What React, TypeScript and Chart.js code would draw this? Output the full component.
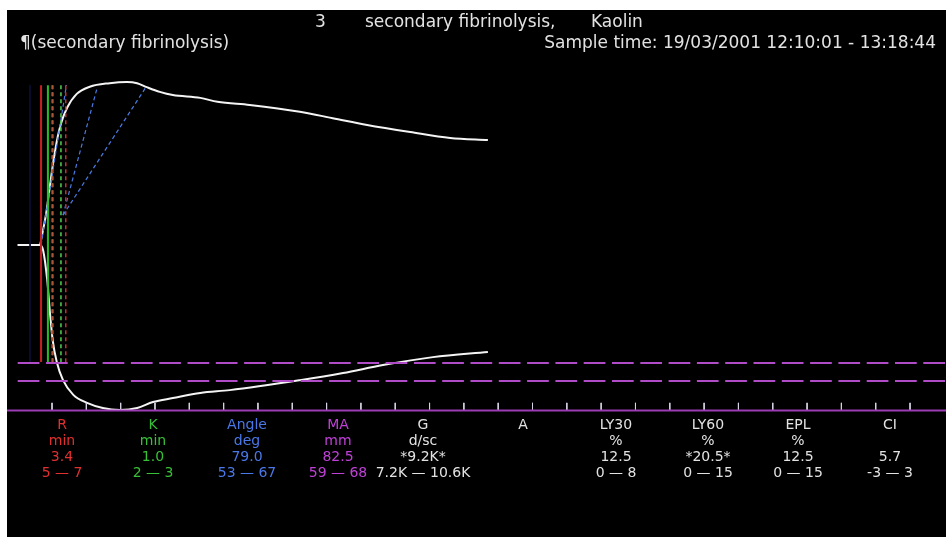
import React, { useEffect, useRef } from 'react';
import { Chart, registerables } from 'chart.js';

Chart.register(...registerables);

// ---------- data (time in minutes, amplitude in mm) ----------
const T_UPPER = [0, 3.2, 3.6, 4.2, 4.7, 5.2, 5.8, 6.3, 7.2, 8.6, 10.5, 13.4, 15.9, 17.4, 18.8, 20.7, 22.6, 26.6, 29.1, 33.8, 41.1, 45.9, 50.9, 57.2, 63.0, 68.5];
const A_UPPER = [0, 0, 3, 8.5, 15, 21, 27, 30.5, 34.5, 38, 39.8, 40.7, 41.0, 40.7, 39.7, 38.5, 37.7, 37.0, 36.0, 35.2, 33.5, 31.9, 30.2, 28.4, 26.9, 26.4];

const T_LOWER = [0, 3.2, 3.7, 4.3, 4.7, 5.1, 5.7, 6.6, 8.1, 10.1, 12.4, 14.9, 17.4, 19.7, 22.6, 26.6, 30.9, 41.1, 47.4, 53.2, 60.5, 68.5];
const A_LOWER = [0, 0, 1.3, 8.8, 17.1, 24, 29.5, 34, 37.7, 39.7, 41, 41.5, 41, 39.5, 38.5, 37.2, 36.5, 34.0, 32.2, 30.2, 28.2, 26.9];

// marker lines (minutes)
const R_TIME = 3.4;
const RK_TIME = 4.4;
const R_RANGE = [5.0, 7.0];
const K_RANGE_MARKS = [5.1, 6.3];
const NAVY_MARK = 1.8;
const MARK_TOP = 40.2;
const MARK_BOTTOM = -29.4;

// angle lines: [t0, a0, t1, a1]
const ANGLE_TANGENT = [3.4, 0, 7.1, 40.2];
const ANGLE_NORM_LOW = [6.6, 7.5, 18.8, 40.0];
const ANGLE_NORM_HIGH = [6.6, 7.5, 11.6, 39.7];

// reference lines (mm)
const DASH_LEVELS = [-29.7, -34.2];
const AXIS_LEVEL = -41.6;
const TICK_TOP = -39.7;
const TICK_TIMES = [5, 10, 15, 20, 25, 30, 35, 40, 45, 50, 55, 60, 65, 70, 75, 80, 85, 90, 95, 100, 105, 110, 115, 120, 125, 130];

// scale extents
const X_MIN = -1.56;
const X_MAX = 135.24;
const Y_MIN = -73.44;
const Y_MAX = 59.1;

// table
const PARAMS = ['R', 'K', 'Angle', 'MA', 'G', 'A', 'LY30', 'LY60', 'EPL', 'CI'];
const UNITS = ['min', 'min', 'deg', 'mm', 'd/sc', '', '%', '%', '%', ''];
const VALUES = ['3.4', '1.0', '79.0', '82.5', '*9.2K*', '', '12.5', '*20.5*', '12.5', '5.7'];
const RANGES = ['5 — 7', '2 — 3', '53 — 67', '59 — 68', '7.2K — 10.6K', '', '0 — 8', '0 — 15', '0 — 15', '-3 — 3'];
const COL_X = [62, 153, 247, 338, 423, 523, 616, 708, 798, 890];
const COL_COLORS = ['#e03030', '#38c038', '#4a78e8', '#c040d8', '#e2e2e2', '#e2e2e2', '#e2e2e2', '#e2e2e2', '#e2e2e2', '#e2e2e2'];

const TITLE_NUM = '3';
const TITLE_NAME = 'secondary fibrinolysis,';
const TITLE_ACT = 'Kaolin';
const SUBTITLE = '¶(secondary fibrinolysis)';
const SAMPLE_TIME = 'Sample time: 19/03/2001 12:10:01 - 13:18:44';

const FONT = '"DejaVu Sans", Verdana, sans-serif';

function seg(t0: number, a0: number, t1: number, a1: number) {
  return [{ x: t0, y: a0 }, { x: t1, y: a1 }];
}

function lineDs(data: any[], color: string, width: number, dash: number[] = [], extra: any = {}) {
  return {
    data,
    borderColor: color,
    borderWidth: width,
    borderDash: dash,
    pointRadius: 0,
    fill: false,
    spanGaps: false,
    tension: 0,
    ...extra,
  };
}

export default function App() {
  const ref = useRef<HTMLCanvasElement>(null);

  useEffect(() => {
    const upper = T_UPPER.map((t, i) => ({ x: t, y: A_UPPER[i] }));
    const lower = T_LOWER.map((t, i) => ({ x: t, y: -A_LOWER[i] }));
    const ticks: any[] = [];
    TICK_TIMES.forEach((t) => {
      ticks.push({ x: t, y: TICK_TOP }, { x: t, y: AXIS_LEVEL }, { x: t, y: null });
    });

    const datasets: any[] = [
      lineDs(seg(X_MIN, AXIS_LEVEL, X_MAX, AXIS_LEVEL), '#9c3cb4', 2),
      ...DASH_LEVELS.map((lv) => lineDs(seg(0, lv, X_MAX, lv), '#b04cc8', 2, [21.7, 6.6])),
      lineDs(ticks, '#d4d4e4', 1),
      lineDs(seg(NAVY_MARK, MARK_TOP, NAVY_MARK, MARK_BOTTOM), '#0e0e34', 1),
      lineDs(seg(R_TIME, MARK_TOP, R_TIME, MARK_BOTTOM), '#c82020', 2),
      lineDs(seg(RK_TIME, MARK_TOP, RK_TIME, MARK_BOTTOM), '#22c022', 2),
      ...R_RANGE.map((t) => lineDs(seg(t, MARK_TOP, t, MARK_BOTTOM), '#c83030', 1.5, [4, 3])),
      ...K_RANGE_MARKS.map((t) => lineDs(seg(t, MARK_TOP, t, MARK_BOTTOM), '#50d050', 1.5, [4, 3])),
      lineDs(seg(ANGLE_TANGENT[0], ANGLE_TANGENT[1], ANGLE_TANGENT[2], ANGLE_TANGENT[3]), '#4a7ae0', 1.2, [4, 3]),
      lineDs(seg(ANGLE_NORM_LOW[0], ANGLE_NORM_LOW[1], ANGLE_NORM_LOW[2], ANGLE_NORM_LOW[3]), '#4a7ae0', 1.2, [4, 3]),
      lineDs(seg(ANGLE_NORM_HIGH[0], ANGLE_NORM_HIGH[1], ANGLE_NORM_HIGH[2], ANGLE_NORM_HIGH[3]), '#4a7ae0', 1.2, [4, 3]),
      lineDs(upper, '#f4f4f4', 2, [], { cubicInterpolationMode: 'monotone' }),
      lineDs(lower, '#f4f4f4', 2, [], { cubicInterpolationMode: 'monotone' }),
    ];

    const chart = new Chart(ref.current as HTMLCanvasElement, {
      type: 'line',
      data: { datasets },
      options: {
        animation: false,
        responsive: false,
        devicePixelRatio: 1,
        events: [],
        layout: { padding: 0 },
        plugins: {
          legend: { display: false },
          tooltip: { enabled: false },
          title: { display: false },
        },
        scales: {
          x: { type: 'linear', min: X_MIN, max: X_MAX, display: false },
          y: { type: 'linear', min: Y_MIN, max: Y_MAX, display: false },
        },
      },
    } as any);
    return () => chart.destroy();
  }, []);

  const textBase: React.CSSProperties = {
    position: 'absolute',
    fontFamily: FONT,
    whiteSpace: 'nowrap',
    color: '#e2e2e2',
  };

  const rows = [PARAMS, UNITS, VALUES, RANGES];
  const rowY = [424, 440, 456, 472];

  return (
    <div style={{ position: 'absolute', left: 0, top: 0, width: 946, height: 537, background: '#fff', overflow: 'hidden' }}>
      <div style={{ position: 'absolute', left: 7, top: 10, width: 939, height: 527, background: '#000' }}>
        <canvas ref={ref} width={939} height={527} style={{ display: 'block', width: 939, height: 527 }} />
      </div>
      <div style={{ ...textBase, left: 315, top: 11, fontSize: 17, lineHeight: '20px' }}>{TITLE_NUM}</div>
      <div style={{ ...textBase, left: 365, top: 11, fontSize: 17, lineHeight: '20px' }}>{TITLE_NAME}</div>
      <div style={{ ...textBase, left: 591, top: 11, fontSize: 17, lineHeight: '20px' }}>{TITLE_ACT}</div>
      <div style={{ ...textBase, left: 20, top: 32, fontSize: 17, lineHeight: '20px' }}>{SUBTITLE}</div>
      <div style={{ ...textBase, right: 10, top: 32, fontSize: 17, lineHeight: '20px' }}>{SAMPLE_TIME}</div>
      {rows.map((row, ri) =>
        row.map((txt, ci) =>
          txt ? (
            <div
              key={`${ri}-${ci}`}
              style={{
                ...textBase,
                left: COL_X[ci],
                top: rowY[ri] - 8,
                transform: 'translateX(-50%)',
                fontSize: 14,
                lineHeight: '16px',
                color: COL_COLORS[ci],
              }}
            >
              {txt}
            </div>
          ) : null
        )
      )}
    </div>
  );
}
